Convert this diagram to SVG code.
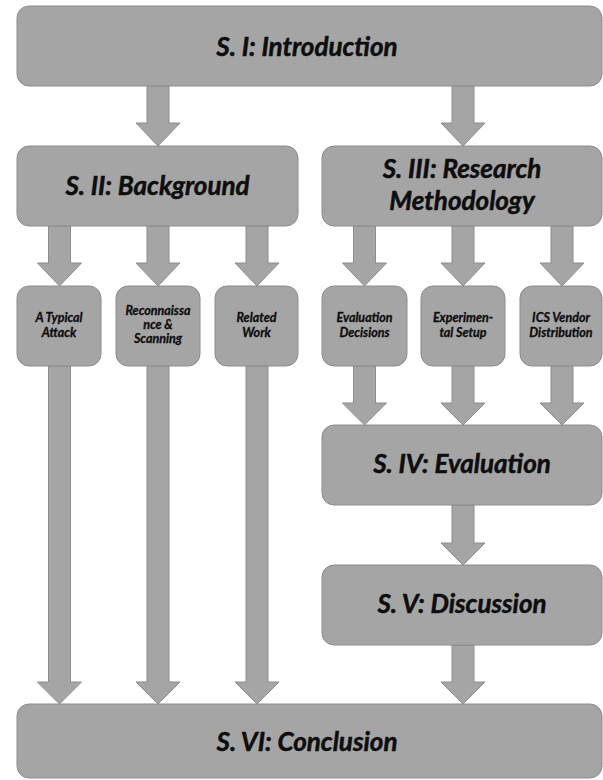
<svg xmlns="http://www.w3.org/2000/svg" width="603" height="780" viewBox="0 0 603 780">
<style>
.box{fill:#a5a5a5;stroke:#8c8c8c;stroke-width:1}
.arr{fill:#a5a5a5;stroke:#8c8c8c;stroke-width:1}
.t{font-family:Lato,"Open Sans","Liberation Sans",sans-serif;font-weight:bold;font-style:italic;fill:#0d0d0d;stroke:#0d0d0d;stroke-width:0.5;text-anchor:middle}
.big{font-size:26px}
.sm{font-size:12.5px;stroke-width:0.3}
</style>
<rect width="603" height="780" fill="#ffffff"/>
<g id="connectors">
<polygon class="arr" points="147,86 169,86 169,123 180,123 158,146 136,123 147,123"/>
<polygon class="arr" points="452,86 474,86 474,123 485,123 463,146 441,123 452,123"/>
<polygon class="arr" points="48.5,226 70.5,226 70.5,263 81.5,263 59.5,286 37.5,263 48.5,263"/>
<polygon class="arr" points="147,226 169,226 169,263 180,263 158,286 136,263 147,263"/>
<polygon class="arr" points="246,226 268,226 268,263 279,263 257,286 235,263 246,263"/>
<polygon class="arr" points="353.5,226 375.5,226 375.5,263 386.5,263 364.5,286 342.5,263 353.5,263"/>
<polygon class="arr" points="452,226 474,226 474,263 485,263 463,286 441,263 452,263"/>
<polygon class="arr" points="551,226 573,226 573,263 584,263 562,286 540,263 551,263"/>
<polygon class="arr" points="353.5,366 375.5,366 375.5,403 386.5,403 364.5,425 342.5,403 353.5,403"/>
<polygon class="arr" points="452,366 474,366 474,403 485,403 463,425 441,403 452,403"/>
<polygon class="arr" points="551,366 573,366 573,403 584,403 562,425 540,403 551,403"/>
<polygon class="arr" points="452,505 474,505 474,543 485,543 463,565 441,543 452,543"/>
<polygon class="arr" points="452,645 474,645 474,682 485,682 463,704 441,682 452,682"/>
<polygon class="arr" points="48.5,366 70.5,366 70.5,682 81.5,682 59.5,704 37.5,682 48.5,682"/>
<polygon class="arr" points="147,366 169,366 169,682 180,682 158,704 136,682 147,682"/>
<polygon class="arr" points="246,366 268,366 268,682 279,682 257,704 235,682 246,682"/>
</g>
<g id="intro">
<rect class="box" x="17" y="6" width="585" height="80" rx="12"/>
<text class="t big" x="307" y="56">S. I: Introduction</text>
</g>
<g id="background">
<rect class="box" x="17" y="146" width="281" height="80" rx="12"/>
<text class="t big" x="157.5" y="195" font-size="29.5">S. II: Background</text>
</g>
<g id="research">
<rect class="box" x="322" y="146" width="280" height="80" rx="12"/>
<text class="t big" x="462" y="178" font-size="27.5">S. III: Research</text>
<text class="t big" x="462" y="210" font-size="27.5">Methodology</text>
</g>
<g id="typical-attack">
<rect class="box" x="17" y="286" width="84" height="80" rx="12"/>
<text class="t sm" x="59" y="322">A Typical</text>
<text class="t sm" x="59" y="337">Attack</text>
</g>
<g id="recon">
<rect class="box" x="116" y="286" width="84" height="80" rx="12"/>
<text class="t sm" x="158" y="315">Reconnaissa</text>
<text class="t sm" x="158" y="329">nce &amp;</text>
<text class="t sm" x="158" y="343">Scanning</text>
</g>
<g id="related">
<rect class="box" x="215" y="286" width="83" height="80" rx="12"/>
<text class="t sm" x="256.5" y="322">Related</text>
<text class="t sm" x="256.5" y="337">Work</text>
</g>
<g id="eval-decisions">
<rect class="box" x="322" y="286" width="85" height="80" rx="12"/>
<text class="t sm" x="364.5" y="322">Evaluation</text>
<text class="t sm" x="364.5" y="337">Decisions</text>
</g>
<g id="experimental">
<rect class="box" x="421" y="286" width="84" height="80" rx="12"/>
<text class="t sm" x="463" y="322">Experimen-</text>
<text class="t sm" x="463" y="337">tal Setup</text>
</g>
<g id="vendor">
<rect class="box" x="520" y="286" width="82" height="80" rx="12"/>
<text class="t sm" x="561" y="322">ICS Vendor</text>
<text class="t sm" x="561" y="337">Distribution</text>
</g>
<g id="evaluation">
<rect class="box" x="322" y="425" width="280" height="80" rx="12"/>
<text class="t big" x="462" y="473" font-size="27.5">S. IV: Evaluation</text>
</g>
<g id="discussion">
<rect class="box" x="322" y="565" width="280" height="80" rx="12"/>
<text class="t big" x="462" y="613" font-size="27.5">S. V: Discussion</text>
</g>
<g id="conclusion">
<rect class="box" x="17" y="704" width="585" height="74" rx="12"/>
<text class="t big" x="307" y="751">S. VI: Conclusion</text>
</g>
</svg>
